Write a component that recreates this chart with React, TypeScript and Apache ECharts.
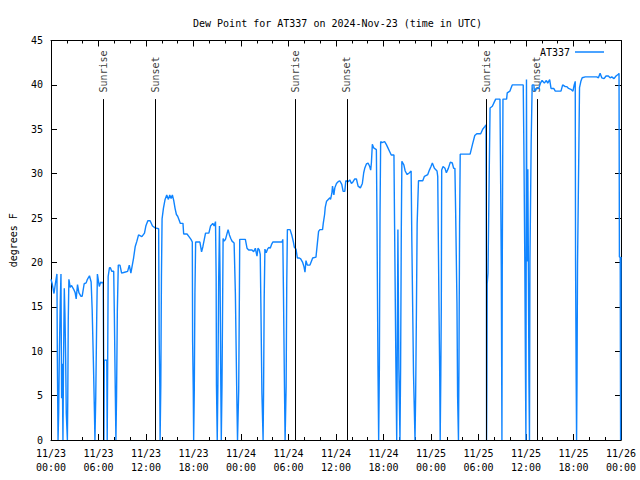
import React, { useEffect, useRef } from "react";
import * as echarts from "echarts";

// Hours since 2024-11-23 00:00 UTC and dew point (°F)
const day1Hours = [0, 0.15, 0.38, 0.55, 0.75, 0.8, 0.89, 0.97, 1.05, 1.17, 1.26, 1.34, 1.42, 1.51, 1.58, 1.68, 1.76, 1.85, 1.93, 2.07, 2.12, 2.18, 2.26, 2.43, 2.6, 2.85, 3.05, 3.18, 3.35, 3.52, 3.77, 3.94, 4.19, 4.44, 4.6, 4.86, 5.07, 5.2, 5.36, 5.49, 5.55, 5.65, 5.78, 5.86, 6.1, 6.28, 6.45, 6.6, 6.65, 6.69, 6.73, 7.05, 7.1, 7.16, 7.22, 7.38, 7.5, 7.67, 7.92, 8.0, 8.13, 8.2, 8.28, 8.38, 8.5, 8.71, 8.92, 9.3, 9.68, 9.89, 10.09, 10.43, 10.64, 10.85, 11.06, 11.48, 11.81, 11.98, 12.23, 12.52, 12.82, 13.15, 13.6, 13.66, 13.74, 13.78, 13.87, 13.95, 14.03, 14.2, 14.41, 14.62, 14.83, 15.0, 15.17, 15.33, 15.5, 15.67, 15.84, 16.0, 16.17, 16.34, 16.67, 16.76, 17.18, 17.43, 17.68, 17.85, 17.89, 17.97, 18.02, 18.1, 18.18, 18.27, 18.81, 19.02, 19.19, 19.52, 19.94, 20.15, 20.44, 20.61, 20.78, 20.86, 20.9, 21.0, 21.08, 21.18, 21.28, 21.36, 21.45, 21.51, 21.6, 21.74, 21.87, 22.04, 22.25, 22.37, 22.54, 22.71, 22.87, 23.13, 23.29, 23.46, 23.56, 23.71, 23.8, 23.84];
const day1Dew = [18.1, 17.6, 16.5, 17.6, 18.7, 9.4, 0, 3.1, 9.4, 15.6, 18.7, 4.7, 8.6, 0, 8.6, 17.1, 14.3, 9.4, 3.0, 0, 4.7, 13.5, 18.1, 17.2, 17.4, 17.0, 16.6, 15.9, 17.5, 16.6, 16.2, 16.2, 17.6, 17.7, 18.1, 18.5, 17.8, 14.7, 8.6, 3.0, 0, 4.7, 14.1, 18.7, 17.3, 17.8, 17.7, 17.8, 9.0, 0, 9.0, 9.0, 0, 9.0, 18.4, 19.4, 19.4, 19.0, 19.0, 14.3, 4.9, 0, 4.9, 14.6, 19.7, 19.7, 18.8, 18.9, 19.0, 19.7, 18.8, 20.5, 21.8, 22.4, 23.1, 22.9, 23.3, 24.1, 24.7, 24.7, 24.1, 23.9, 23.8, 11.8, 6.2, 0, 6.2, 18.4, 24.9, 26.1, 27.1, 27.6, 27.1, 27.6, 27.2, 27.6, 27.0, 26.1, 25.4, 25.2, 24.8, 24.4, 24.4, 23.2, 23.2, 22.9, 22.6, 22.3, 11.1, 5.6, 0, 5.6, 16.5, 22.3, 22.3, 21.2, 21.8, 23.3, 23.3, 24.1, 24.4, 24.1, 24.6, 18.4, 6.2, 0, 6.2, 18.0, 24.1, 18.0, 6.2, 0, 6.2, 22.7, 22.4, 22.6, 23.3, 23.7, 23.1, 22.7, 22.4, 22.2, 16.5, 5.6, 0, 5.6, 16.9, 22.6];

const day2Hours = [24.55, 24.76, 24.97, 25.39, 25.6, 25.81, 26.02, 26.14, 26.31, 26.43, 26.51, 26.64, 26.79, 26.85, 26.93, 27.02, 27.18, 27.35, 27.52, 27.69, 27.85, 28.02, 29.19, 29.28, 29.36, 29.49, 29.57, 29.7, 29.78, 29.86, 30.2, 30.41, 30.62, 30.74, 30.95, 31.12, 31.37, 31.54, 31.79, 31.96, 32.08, 32.21, 32.38, 32.71, 32.92, 33.05, 33.47, 33.63, 33.8, 33.97, 34.3, 34.39, 34.56, 34.64, 34.81, 35.02, 35.23, 35.31, 35.48, 35.56, 35.73, 35.85, 36.06, 36.27, 36.48, 36.73, 36.9, 37.11, 37.24, 37.53, 37.74, 37.95, 38.16, 38.37, 38.58, 38.79, 39.08, 39.33, 39.5, 39.63, 39.84, 40.05, 40.26, 40.38, 40.47, 40.59, 40.76, 41.1, 41.18, 41.3, 41.39, 41.48, 41.56, 41.64, 41.81, 42.14, 42.35, 42.56, 42.77, 42.98, 43.32, 43.4, 43.57, 43.67, 43.73, 43.82, 43.94, 44.08, 44.16, 44.25, 44.32, 44.57, 44.74, 44.99, 45.28, 45.49, 45.58, 45.79, 45.98, 46.06, 46.16, 46.25, 46.42, 46.96, 47.17, 47.59, 47.8];
const day2Dew = [22.6, 21.6, 21.4, 21.4, 21.2, 21.6, 20.7, 21.6, 21.4, 20.9, 15.4, 5.3, 0, 5.3, 16.0, 21.5, 21.1, 21.5, 21.7, 21.6, 22.0, 22.3, 22.3, 22.6, 16.9, 6.0, 0, 6.0, 17.7, 23.7, 23.7, 23.1, 22.3, 21.7, 21.5, 20.5, 20.5, 20.4, 20.0, 19.5, 18.9, 20.2, 19.7, 19.7, 20.2, 20.5, 20.6, 22.0, 23.5, 23.7, 23.7, 24.4, 25.4, 26.2, 26.9, 27.1, 27.3, 27.1, 27.8, 28.6, 27.6, 28.4, 28.9, 29.1, 29.2, 28.8, 28.0, 28.0, 29.2, 29.1, 29.3, 28.9, 29.1, 29.4, 29.4, 28.6, 28.4, 28.9, 30.1, 30.6, 31.1, 31.2, 30.8, 30.4, 31.2, 33.3, 32.9, 32.7, 24.6, 8.3, 0, 8.3, 25.2, 33.6, 33.5, 33.6, 33.3, 32.9, 32.5, 32.1, 32.1, 24.1, 8.1, 0, 8.1, 23.7, 8.1, 0, 8.1, 23.7, 31.4, 31.0, 30.3, 29.9, 30.1, 30.3, 22.4, 7.5, 0, 5.0, 14.6, 24.4, 29.2, 29.2, 29.7, 29.9, 30.4];

const day3Hours = [48.0, 48.17, 48.43, 48.76, 48.85, 49.01, 49.1, 49.16, 49.24, 49.3, 49.35, 49.52, 49.77, 49.94, 50.19, 50.44, 50.69, 50.86, 51.02, 51.11, 51.28, 51.36, 51.47, 51.53, 51.61, 51.69, 52.94, 53.24, 53.53, 53.78, 54.28, 54.53, 54.79, 54.95, 55.0, 55.02, 55.06, 55.1, 55.2, 55.37, 55.46, 55.75, 55.96, 56.17, 56.71, 56.8, 56.88, 56.92, 56.96, 57.0, 57.09, 57.55, 57.63, 57.97, 58.26, 59.65, 59.73, 59.85, 59.94, 59.99, 60.06, 60.12, 60.23, 60.3, 60.37, 60.44, 60.5, 60.65, 60.78, 60.99, 61.07, 61.3, 61.61, 61.83, 62.03, 62.32, 62.57, 62.74, 62.99, 63.16, 63.5, 63.7, 64.42, 64.63, 64.96, 65.17, 65.38, 65.67, 65.93, 66.09, 66.22, 66.26, 66.34, 66.39, 66.44, 66.51, 66.68, 66.76, 66.93, 67.1, 67.48, 68.1, 68.94, 69.15, 69.36, 69.57, 69.86, 70.11, 70.4, 70.62, 70.83, 71.12, 71.37, 71.66, 71.75, 71.8, 71.9, 71.95, 72.0];
const day3Dew = [30.8, 31.2, 30.6, 30.3, 29.7, 14.9, 7.5, 0, 7.5, 14.9, 30.4, 30.8, 30.6, 30.1, 30.6, 31.3, 31.2, 30.6, 30.6, 25.9, 15.4, 4.9, 0, 8.1, 24.1, 32.2, 32.2, 33.3, 34.3, 34.5, 34.5, 35.0, 35.3, 35.5, 17.6, 0, 6.3, 17.6, 18.8, 31.2, 37.4, 37.6, 38.0, 38.4, 38.4, 28.8, 19.2, 9.8, 0, 19.2, 38.4, 38.4, 39.1, 39.3, 40.0, 40.0, 33.3, 20.1, 6.8, 0, 40.6, 20.1, 30.5, 20.1, 6.8, 0, 20.1, 33.4, 40.0, 40.0, 39.3, 39.6, 39.6, 40.2, 40.5, 40.2, 40.5, 40.2, 40.6, 39.6, 39.6, 39.3, 39.3, 40.0, 39.8, 39.8, 39.6, 39.5, 39.3, 40.0, 40.4, 20.3, 6.6, 0, 6.6, 19.9, 33.1, 39.7, 40.4, 40.8, 40.9, 40.9, 40.9, 40.8, 41.3, 40.8, 40.7, 41.0, 41.0, 40.8, 40.9, 40.7, 41.0, 41.2, 41.3, 20.6, 20.6, 0, 20.6];

const sunEventHours = [6.66, 13.19, 30.83, 37.36, 55.0, 61.36];
const sunEventNames = ["Sunrise", "Sunset", "Sunrise", "Sunset", "Sunrise", "Sunset"];
const sunLineTop = 38.4;

const xTickLabels = ["11/23\n00:00", "11/23\n06:00", "11/23\n12:00", "11/23\n18:00", "11/24\n00:00", "11/24\n06:00", "11/24\n12:00", "11/24\n18:00", "11/25\n00:00", "11/25\n06:00", "11/25\n12:00", "11/25\n18:00", "11/26\n00:00"];

const FONT = "'DejaVu Sans Mono', 'Liberation Mono', monospace";
const LINE_COLOR = "#0f84ff";

export default function App() {
  const ref = useRef<HTMLDivElement>(null);
  useEffect(() => {
    if (!ref.current) return;
    const chart = echarts.init(ref.current, null, { renderer: "svg" });
    const hours = [...day1Hours, ...day2Hours, ...day3Hours];
    const dew = [...day1Dew, ...day2Dew, ...day3Dew];
    const seriesData = hours.map((h, i) => [h, dew[i]]);
    const black = { color: "#000", width: 1 };
    const xCommon = {
      type: "value",
      min: 0,
      max: 72,
      interval: 6,
      axisLine: { show: true, onZero: false, lineStyle: black },
      axisTick: { show: true, inside: true, length: 6, lineStyle: black },
      minorTick: { show: true, splitNumber: 3, length: 3, lineStyle: black },
      splitLine: { show: false },
      minorSplitLine: { show: false },
    };
    const yCommon = {
      type: "value",
      min: 0,
      max: 45,
      interval: 5,
      axisLine: { show: true, onZero: false, lineStyle: black },
      axisTick: { show: true, inside: true, length: 6, lineStyle: black },
      splitLine: { show: false },
    };
    chart.setOption({
      animation: false,
      backgroundColor: "#fff",
      title: {
        text: "Dew Point for AT337 on 2024-Nov-23 (time in UTC)",
        left: 188,
        top: 13,
        textStyle: { fontFamily: FONT, fontSize: 10, fontWeight: "normal", color: "#000" },
      },
      legend: {
        data: [{ name: "AT337", icon: "rect" }],
        right: 31,
        top: 42,
        align: "right",
        itemWidth: 29,
        itemHeight: 1.5,
        itemStyle: { color: LINE_COLOR, borderWidth: 0 },
        textStyle: { fontFamily: FONT, fontSize: 10, color: "#000" },
      },
      grid: { left: 48, right: 19, top: 40.5, bottom: 40, containLabel: false },
      xAxis: [
        {
          ...xCommon,
          position: "bottom",
          axisLabel: {
            show: true,
            fontFamily: FONT,
            fontSize: 10,
            color: "#000",
            lineHeight: 14,
            margin: 6,
            formatter: (v: number) => xTickLabels[Math.round(v / 6)] ?? "",
          },
        },
        { ...xCommon, position: "top", axisLabel: { show: false } },
      ],
      yAxis: [
        {
          ...yCommon,
          position: "left",
          name: "degrees F",
          nameLocation: "middle",
          nameGap: 33,
          nameTextStyle: { fontFamily: FONT, fontSize: 10, color: "#000" },
          axisLabel: { fontFamily: FONT, fontSize: 10, color: "#000", margin: 8 },
        },
        { ...yCommon, position: "right", axisLabel: { show: false } },
      ],
      series: [
        {
          name: "sun",
          type: "scatter",
          xAxisIndex: 0,
          yAxisIndex: 0,
          z: 1,
          symbolSize: 1,
          itemStyle: { color: "rgba(0,0,0,0)" },
          silent: true,
          data: sunEventHours.map((h) => [h, sunLineTop]),
          label: {
            show: true,
            position: "top",
            rotate: 90,
            align: "left",
            verticalAlign: "middle",
            distance: 6,
            fontFamily: FONT,
            fontSize: 10,
            color: "#000",
            formatter: (p: any) => sunEventNames[p.dataIndex],
          },
          labelLayout: { hideOverlap: false },
          markLine: {
            silent: true,
            symbol: "none",
            animation: false,
            label: { show: false },
            lineStyle: { color: "#000", width: 1, type: "solid" },
            data: sunEventHours.map((h) => [{ coord: [h, 0] }, { coord: [h, sunLineTop] }]),
          },
        },
        {
          name: "AT337",
          type: "line",
          xAxisIndex: 0,
          yAxisIndex: 0,
          z: 3,
          symbol: "none",
          showSymbol: false,
          color: LINE_COLOR,
          lineStyle: { color: LINE_COLOR, width: 1.4 },
          data: seriesData,
        },
      ],
    });
    return () => chart.dispose();
  }, []);
  return (
    <div
      ref={ref}
      style={{ position: "fixed", left: 0, top: 0, width: 640, height: 480, background: "#fff" }}
    />
  );
}
